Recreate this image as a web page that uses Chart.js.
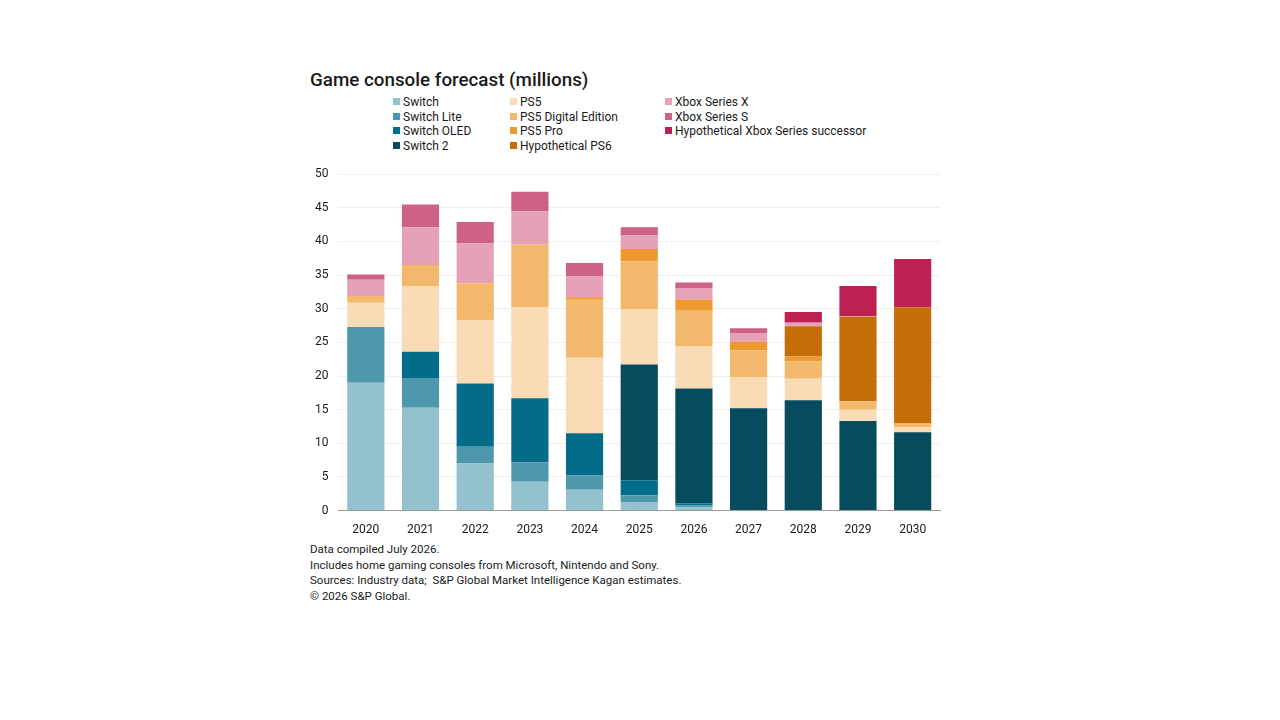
<!DOCTYPE html>
<html>
<head>
<meta charset="utf-8">
<script src="https://cdn.jsdelivr.net/npm/chart.js@4.4.0/dist/chart.umd.min.js"></script>
<style>
  body { margin: 0; background: #fff; width: 1280px; height: 720px; position: relative; font-family: Roboto, "Liberation Sans", sans-serif; color: #1a1a1a; }
  #title { position: absolute; left: 310px; top: 69px; font-size: 18.8px; font-weight: 500; }
  #legend { position: absolute; left: 393px; top: 95px; font-size: 12px; }
  .item { position: absolute; white-space: nowrap; line-height: 14px; }
  .sw { display: inline-block; width: 7px; height: 7px; margin-right: 3px; vertical-align: 1px; }
  #wrap { position: absolute; left: 300px; top: 157px; width: 650px; height: 384px; }
  #notes { position: absolute; left: 310px; top: 542px; font-size: 11.5px; line-height: 15.6px; }
</style>
</head>
<body>
<div id="title">Game console forecast (millions)</div>
<div id="legend"></div>
<div id="wrap"><canvas id="chart"></canvas></div>
<div id="notes">
  Data compiled July 2026.<br>
  Includes home gaming consoles from Microsoft, Nintendo and Sony.<br>
  Sources: Industry data;&nbsp; S&amp;P Global Market Intelligence Kagan estimates.<br>
  &copy; 2026 S&amp;P Global.
</div>
<script>
const years = ['2020', '2021', '2022', '2023', '2024', '2025', '2026', '2027', '2028', '2029', '2030'];

const switchOg   = [19.0, 15.3, 7.0, 4.3, 3.1, 1.25, 0.5, 0.1, 0, 0, 0];
const switchLite = [8.3, 4.4, 2.5, 2.9, 2.1, 1.05, 0.25, 0, 0, 0, 0];
const switchOled = [0, 3.9, 9.4, 9.5, 6.3, 2.2, 0.3, 0, 0, 0, 0];
const switch2    = [0, 0, 0, 0, 0, 17.2, 17.1, 15.1, 16.4, 13.3, 11.65];
const ps5        = [3.6, 9.7, 9.4, 13.5, 11.2, 8.2, 6.25, 4.65, 3.2, 1.7, 0.75];
const ps5Digital = [1.0, 3.2, 5.5, 9.3, 8.65, 7.15, 5.3, 3.95, 2.6, 1.2, 0.5];
const ps5Pro     = [0, 0, 0, 0, 0.35, 1.85, 1.65, 1.3, 0.7, 0.1, 0.1];
const ps6        = [0, 0, 0, 0, 0, 0, 0, 0, 4.5, 12.5, 17.2];
const xboxX      = [2.4, 5.6, 5.9, 5.0, 3.1, 2.0, 1.65, 1.3, 0.4, 0.1, 0];
const xboxS      = [0.8, 3.4, 3.2, 2.9, 2.0, 1.2, 0.9, 0.7, 0.2, 0, 0];
const xboxNext   = [0, 0, 0, 0, 0, 0, 0, 0, 1.5, 4.5, 7.2];

const yTicks = [0, 5, 10, 15, 20, 25, 30, 35, 40, 45, 50];

const series = [
  { label: 'Switch', data: switchOg, color: '#93c1cd', col: 0, row: 0 },
  { label: 'Switch Lite', data: switchLite, color: '#4d98ad', col: 0, row: 1 },
  { label: 'Switch OLED', data: switchOled, color: '#026c89', col: 0, row: 2 },
  { label: 'Switch 2', data: switch2, color: '#064b5e', col: 0, row: 3 },
  { label: 'PS5', data: ps5, color: '#f9dcb5', col: 1, row: 0 },
  { label: 'PS5 Digital Edition', data: ps5Digital, color: '#f2b86c', col: 1, row: 1 },
  { label: 'PS5 Pro', data: ps5Pro, color: '#ee992f', col: 1, row: 2 },
  { label: 'Hypothetical PS6', data: ps6, color: '#c56d09', col: 1, row: 3 },
  { label: 'Xbox Series X', data: xboxX, color: '#e5a1b5', col: 2, row: 0 },
  { label: 'Xbox Series S', data: xboxS, color: '#cd6186', col: 2, row: 1 },
  { label: 'Hypothetical Xbox Series successor', data: xboxNext, color: '#bd2152', col: 2, row: 2 }
];

// legend in three columns, built from the series list
const colX = [0, 117, 272];
const legend = document.getElementById('legend');
series.forEach(s => {
  const el = document.createElement('div');
  el.className = 'item';
  el.style.left = colX[s.col] + 'px';
  el.style.top = (s.row * 14.5) + 'px';
  el.innerHTML = `<span class="sw" style="background:${s.color}"></span>${s.label}`;
  legend.appendChild(el);
});

new Chart(document.getElementById('chart'), {
  type: 'bar',
  data: {
    labels: years,
    datasets: series.map(s => ({
      label: s.label,
      data: s.data,
      backgroundColor: s.color,
      borderWidth: 0,
      categoryPercentage: 0.68,
      barPercentage: 1.0
    }))
  },
  options: {
    responsive: true,
    maintainAspectRatio: false,
    animation: false,
    layout: { padding: { left: 5, right: 10, top: 0, bottom: 0 } },
    plugins: {
      legend: { display: false },
      tooltip: { enabled: false }
    },
    scales: {
      x: {
        stacked: true,
        grid: { display: false },
        border: { display: true, color: '#9a9a9a' },
        ticks: { color: '#1a1a1a', font: { family: 'Roboto', size: 12 }, padding: 4 }
      },
      y: {
        stacked: true,
        min: 0,
        max: 50,
        afterBuildTicks: axis => { axis.ticks = yTicks.map(v => ({ value: v })); },
        grid: { color: '#efefef', drawTicks: false },
        border: { display: false },
        ticks: { color: '#1a1a1a', font: { family: 'Roboto', size: 12 }, padding: 10 }
      }
    }
  }
});
</script>
</body>
</html>
